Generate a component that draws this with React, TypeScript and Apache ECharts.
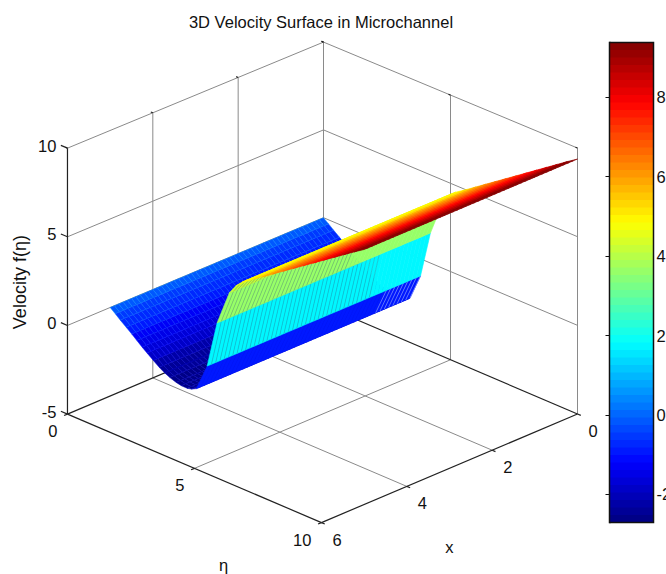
import React, { useEffect, useRef } from "react";
import * as echarts from "echarts";

const TITLE = "3D Velocity Surface in Microchannel";
const FONT = '"Liberation Sans", Arial, sans-serif';

// Sampled surface: velocity profile over eta, the same along every x station.
const etaValues = [0, 0.2, 0.4, 0.63, 0.85, 1.05, 1.26, 1.45, 1.7, 1.93, 2.15, 2.35, 2.6, 2.8, 3.03, 3.2, 3.4, 3.82, 4.21, 4.69, 4.95, 5.2, 5.6, 6, 6.4, 6.8, 7.2, 7.6, 8, 8.4, 8.8, 9.2, 9.6, 10];
const velocityValues = [0, -0.23, -0.47, -0.73, -0.98, -1.22, -1.47, -1.68, -1.95, -2.2, -2.38, -2.52, -2.64, -2.7, -2.71, -2.65, -2.5, -0.97, 1.7, 3.69, 4.25, 4.62, 5, 5.4, 5.8, 6.2, 6.6, 7, 7.4, 7.8, 8.2, 8.6, 9, 9.38];
const xValues = [0, 0.1, 0.2, 0.3, 0.4, 0.5, 0.6, 0.7, 0.8, 0.9, 1, 1.1, 1.2, 1.3, 1.4, 1.5, 1.6, 1.7, 1.8, 1.9, 2, 2.1, 2.2, 2.3, 2.4, 2.5, 2.6, 2.7, 2.8, 2.9, 3, 3.1, 3.2, 3.3, 3.4, 3.5, 3.6, 3.7, 3.8, 3.9, 4, 4.1, 4.2, 4.3, 4.4, 4.5, 4.6, 4.7, 4.8, 4.9, 5];

const etaTicks = [0, 5, 10];
const xTicks = [0, 2, 4, 6];
const zTicks = [-5, 0, 5, 10];
const colorbarTicks = [-2, 0, 2, 4, 6, 8];
const colorMin = -2.71;
const colorMax = 9.38;

const project = (eta: number, x: number, z: number): [number, number] => {
  const back = (1 - eta / 10) * (1 - x / 6);
  return [323.5 + 25.4 * eta - 42.67 * x, 305.5 + 10.85 * eta + 18.1 * x - (17.73 - 0.17 * back) * (z + 5)];
};

const jet = (t: number): string => {
  const c = (v: number) => Math.round(255 * Math.max(0, Math.min(1, v)));
  return `rgb(${c(1.5 - Math.abs(4 * t - 3))},${c(1.5 - Math.abs(4 * t - 2))},${c(1.5 - Math.abs(4 * t - 1))})`;
};
const LEVELS = 64;
const levelOf = (z: number) => Math.max(0, Math.min(LEVELS - 1, Math.floor(((z - colorMin) / (colorMax - colorMin)) * LEVELS)));
const levelColor = (l: number) => jet((l + 0.5) / LEVELS);

// cells: eta0, eta1, x0, x1, z0, z1, eta index
const cells: number[][] = [];
for (let j = 0; j + 1 < etaValues.length; j++) {
  for (let i = 0; i + 1 < xValues.length; i++) {
    cells.push([etaValues[j], etaValues[j + 1], xValues[i], xValues[i + 1], velocityValues[j], velocityValues[j + 1], j]);
  }
}
const depth = (c: number[]) => (c[0] + c[1]) / 20 + (c[2] + c[3]) / 12 + (0.55 * (c[4] + c[5])) / 30;
cells.sort((a, b) => depth(a) - depth(b));

// segments: eta0, x0, z0, eta1, x1, z1, kind (0 grid, 1 axis/tick)
const segs: number[][] = [];
const X0 = 0, X1 = 6, E0 = 0, E1 = 10, Z0 = -5, Z1 = 10;
zTicks.forEach((z) => {
  if (z !== Z0) {
    segs.push([E0, X1, z, E0, X0, z, 0]);
    segs.push([E0, X0, z, E1, X0, z, 0]);
  }
});
xTicks.forEach((x) => {
  if (x !== X0) segs.push([E0, x, Z0, E0, x, Z1, 0]);
  if (x !== X0 && x !== X1) segs.push([E0, x, Z0, E1, x, Z0, 0]);
});
etaTicks.forEach((e) => {
  if (e !== E0) segs.push([e, X0, Z0, e, X0, Z1, 0]);
  if (e !== E0 && e !== E1) segs.push([e, X0, Z0, e, X1, Z0, 0]);
});
segs.push([E0, X0, Z0, E0, X0, Z1, 0]);
segs.push([E0, X1, Z0, E0, X1, Z1, 1]);
segs.push([E0, X1, Z0, E1, X1, Z0, 1]);
segs.push([E1, X1, Z0, E1, X0, Z0, 1]);
segs.push([E0, X0, Z0, E0, X1, Z0, 1]);
segs.push([E0, X0, Z0, E1, X0, Z0, 1]);
zTicks.forEach((z) => segs.push([E0, X1, z, E0 - 0.26, X1, z, 1]));
etaTicks.forEach((e) => segs.push([e, X1, Z0, e, X1 + 0.08, Z0, 1]));
xTicks.forEach((x) => segs.push([E1, x, Z0, E1 + 0.13, x, Z0, 1]));
etaTicks.forEach((e) => segs.push([e, X0, Z1, e - 0.08, X0, Z1, 1]));
xTicks.forEach((x) => segs.push([E0, x, Z1, E0 - 0.08, x, Z1, 1]));

type Label = { text: string; p: [number, number, number]; dx: number; dy: number; align: string; rot?: number; size?: number };
const labels: Label[] = [
  ...etaTicks.map((e) => ({ text: String(e), p: [e, X1, Z0] as [number, number, number], dx: -10, dy: 17, align: "right" })),
  ...xTicks.map((x) => ({ text: String(x), p: [E1, x, Z0] as [number, number, number], dx: 11, dy: 17, align: "left" })),
  ...zTicks.map((z) => ({ text: String(z), p: [E0, X1, z] as [number, number, number], dx: -11, dy: -2.5, align: "right" })),
  { text: "η", p: [5, X1, Z0], dx: 29, dy: 97, align: "center" },
  { text: "x", p: [E1, 3, Z0], dx: 0, dy: 79, align: "center" },
  { text: "Velocity f(η)", p: [E0, X1, 2.5], dx: -47, dy: 1, align: "center", rot: Math.PI / 2, size: 18 },
];

// first x station of the visible mesh hatching in the wall strips
const hatchFrom = (j: number) => (j === 17 ? 1.2 : j === 18 || j === 19 ? 2 : 99);

const option: any = {
  animation: false,
  backgroundColor: "#fff",
  title: {
    text: TITLE,
    left: 316,
    top: 8,
    textAlign: "center",
    textStyle: { fontFamily: FONT, fontSize: 16.5, fontWeight: "normal", color: "#111" },
  },
  grid: [
    { left: 0, top: 0, width: 666, height: 574, show: false, outerBoundsMode: "none" },
    { left: 609.5, top: 42.5, width: 44, height: 480, show: false, outerBoundsMode: "none" },
  ],
  xAxis: [
    { gridIndex: 0, type: "value", min: 0, max: 666, show: false },
    { gridIndex: 1, type: "value", min: 0, max: 1, show: false },
  ],
  yAxis: [
    { gridIndex: 0, type: "value", min: 0, max: 574, inverse: true, show: false },
    {
      gridIndex: 1,
      type: "value",
      min: colorMin,
      max: colorMax,
      position: "right",
      splitLine: { show: false },
      axisLine: { show: true, lineStyle: { color: "#111", width: 1.5 } },
      axisTick: { show: true, inside: true, length: 4, customValues: colorbarTicks, lineStyle: { color: "#111" } },
      axisLabel: {
        show: true,
        customValues: colorbarTicks,
        margin: 3,
        fontFamily: FONT,
        fontSize: 16.5,
        color: "#111",
        hideOverlap: false,
        formatter: (v: number) => String(v),
      },
    },
    {
      gridIndex: 1,
      type: "value",
      min: colorMin,
      max: colorMax,
      position: "left",
      splitLine: { show: false },
      axisLine: { show: true, lineStyle: { color: "#111", width: 1.5 } },
      axisTick: { show: true, inside: true, length: 4, customValues: colorbarTicks, lineStyle: { color: "#111" } },
      axisLabel: { show: false },
    },
  ],
  series: [
    {
      type: "custom",
      name: "box",
      xAxisIndex: 0,
      yAxisIndex: 0,
      silent: true,
      clip: false,
      progressive: 0,
      encode: { x: 0, y: 1 },
      data: segs,
      z: 1,
      renderItem: (_p: any, api: any) => {
        const a = api.coord(project(api.value(0), api.value(1), api.value(2)));
        const b = api.coord(project(api.value(3), api.value(4), api.value(5)));
        const axis = api.value(6) === 1;
        return {
          type: "line",
          shape: { x1: a[0], y1: a[1], x2: b[0], y2: b[1] },
          style: { stroke: axis ? "#222" : "#8a8a8a", lineWidth: axis ? 1.2 : 1 },
        };
      },
    },
    {
      type: "custom",
      name: "surface",
      xAxisIndex: 0,
      yAxisIndex: 0,
      silent: true,
      clip: false,
      progressive: 0,
      encode: { x: 0, y: 1 },
      data: cells,
      z: 2,
      renderItem: (_p: any, api: any) => {
        const e0 = api.value(0), e1 = api.value(1), x0 = api.value(2), x1 = api.value(3), z0 = api.value(4), z1 = api.value(5), j = api.value(6);
        const pts = [project(e0, x0, z0), project(e1, x0, z1), project(e1, x1, z1), project(e0, x1, z0)].map((p) => api.coord(p));
        const lvl = levelOf(z1);
        const fill = levelColor(lvl);
        const trough = j < 16;
        const stroke = trough ? levelColor(Math.min(LEVELS - 1, lvl + 3)) : fill;
        const children: any[] = [
          { type: "polygon", shape: { points: pts }, style: { fill, stroke, lineWidth: trough ? 0.5 : 0.6 } },
        ];
        if (x0 >= hatchFrom(j)) {
          children.push({
            type: "line",
            shape: { x1: pts[0][0], y1: pts[0][1], x2: pts[1][0], y2: pts[1][1] },
            style: { stroke: "rgba(60,90,110,0.3)", lineWidth: 0.9 },
          });
        }
        if (j === 16 && x0 < 0.9) {
          children.push({
            type: "line",
            shape: { x1: pts[0][0], y1: pts[0][1], x2: pts[1][0], y2: pts[1][1] },
            style: { stroke: "rgba(130,150,255,0.8)", lineWidth: 0.9 },
          });
        }
        return { type: "group", children };
      },
    },
    {
      type: "custom",
      name: "labels",
      xAxisIndex: 0,
      yAxisIndex: 0,
      silent: true,
      clip: false,
      progressive: 0,
      data: labels.map((l, i) => [i, 0]),
      z: 3,
      renderItem: (params: any, api: any) => {
        const l = labels[params.dataIndex];
        const c = api.coord(project(l.p[0], l.p[1], l.p[2]));
        return {
          type: "text",
          x: c[0] + l.dx,
          y: c[1] + l.dy,
          rotation: l.rot || 0,
          style: { text: l.text, font: `${l.size || 16.5}px ${FONT}`, fill: "#111", align: l.align, verticalAlign: "middle" },
        };
      },
    },
    {
      type: "custom",
      name: "colorbar",
      xAxisIndex: 1,
      yAxisIndex: 1,
      silent: true,
      clip: true,
      progressive: 0,
      encode: { y: 1 },
      data: Array.from({ length: LEVELS }, (_, i) => [i, colorMin + ((i + 0.5) / LEVELS) * (colorMax - colorMin)]),
      z: 1,
      renderItem: (_p: any, api: any) => {
        const i = api.value(0);
        const a = api.coord([0, colorMin + (i / LEVELS) * (colorMax - colorMin)]);
        const b = api.coord([1, colorMin + ((i + 1) / LEVELS) * (colorMax - colorMin)]);
        return {
          type: "rect",
          shape: { x: a[0], y: b[1] - 0.5, width: b[0] - a[0], height: a[1] - b[1] + 0.5 },
          style: { fill: levelColor(i) },
        };
      },
    },
  ],
  graphic: [
    { type: "rect", z: 10, shape: { x: 609.5, y: 42.5, width: 44, height: 480 }, style: { fill: "none", stroke: "#111", lineWidth: 1.5 }, silent: true },
  ],
};

export default function App() {
  const ref = useRef<HTMLDivElement>(null);
  useEffect(() => {
    document.body.style.margin = "0";
    const chart = echarts.init(ref.current!, null, { renderer: "svg" });
    chart.setOption(option);
    return () => chart.dispose();
  }, []);
  return <div ref={ref} style={{ width: 666, height: 574 }} />;
}
